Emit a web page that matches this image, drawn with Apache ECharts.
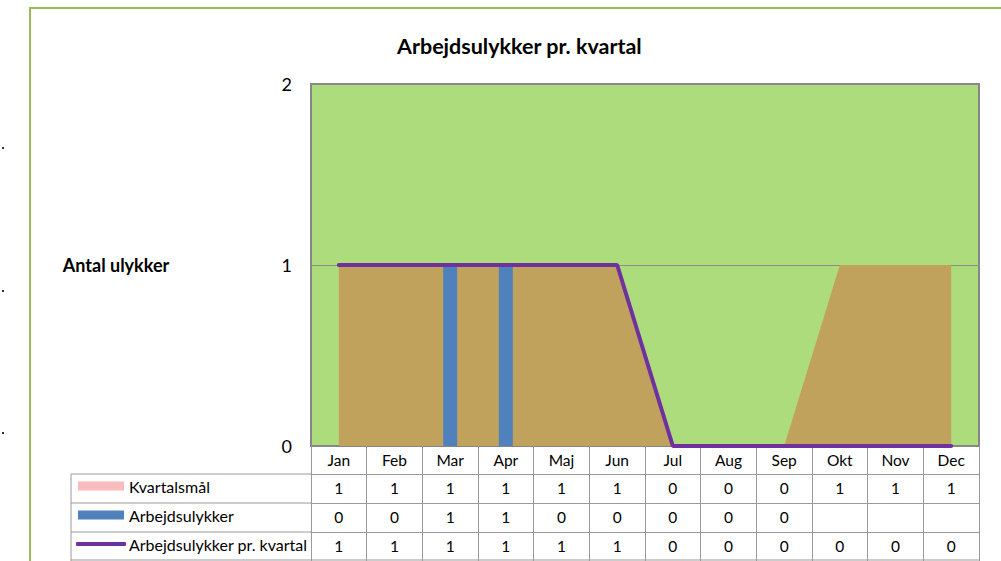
<!DOCTYPE html>
<html>
<head>
<meta charset="utf-8">
<script src="https://cdn.jsdelivr.net/npm/echarts@6/dist/echarts.min.js"></script>
<style>
  html, body { margin: 0; padding: 0; background: #fff; }
  #chart { width: 1001px; height: 561px; }
</style>
</head>
<body>
<div id="chart"></div>
<script>
// categories and values
const months = ['Jan', 'Feb', 'Mar', 'Apr', 'Maj', 'Jun', 'Jul', 'Aug', 'Sep', 'Okt', 'Nov', 'Dec'];
const kvartalsmal = [1, 1, 1, 1, 1, 1, 0, 0, 0, 1, 1, 1];
const ulykker = [0, 0, 1, 1, 0, 0, 0, 0, 0, null, null, null];
const prKvartal = [1, 1, 1, 1, 1, 1, 0, 0, 0, 0, 0, 0];
const yTicks = [0, 1, 2];

const FONT = 'Lato';
const tableLine = '#9a9a9a';
const rowH = 29;

const chart = echarts.init(document.getElementById('chart'), null, { renderer: 'svg' });

// one x axis per table row: the axis line is the row's top border, ticks are the column lines
const rowAxis = (offset, values) => ({
  type: 'category',
  data: months,
  gridIndex: 0,
  position: 'bottom',
  offset: offset,
  boundaryGap: true,
  axisLine: { show: true, lineStyle: { color: tableLine, width: 1 } },
  axisTick: { show: true, interval: 0, length: rowH, lineStyle: { color: tableLine } },
  axisLabel: {
    interval: 0,
    margin: 6,
    fontFamily: FONT,
    fontSize: 15.5,
    color: '#000',
    formatter: (v, i) => (values[i] == null ? '' : String(values[i]))
  },
  splitLine: { show: false }
});

const legendText = { fontFamily: FONT, fontSize: 16, color: '#000' };

const option = {
  backgroundColor: '#fff',
  animation: false,
  title: {
    text: 'Arbejdsulykker pr. kvartal',
    left: 392,
    top: 30,
    textStyle: { fontFamily: FONT, fontSize: 21.5, fontWeight: 'bold', color: '#000' }
  },
  legend: [
    {
      data: [{ name: 'Kvartalsmål', itemStyle: { color: '#f9bcbc' } }],
      left: 78, top: 478, padding: 0, icon: 'rect', itemWidth: 46, itemHeight: 9,
      textStyle: Object.assign({ padding: [0, 0, 0, 0] }, legendText)
    },
    {
      data: ['Arbejdsulykker'],
      left: 78, top: 507, padding: 0, icon: 'rect', itemWidth: 46, itemHeight: 9,
      textStyle: Object.assign({ padding: [0, 0, 0, 0] }, legendText)
    },
    {
      data: ['Arbejdsulykker pr. kvartal'],
      left: 76, top: 536, padding: 0, icon: 'roundRect', itemWidth: 50, itemHeight: 4,
      textStyle: Object.assign({ padding: [0, 0, 0, -2] }, legendText)
    }
  ],
  grid: {
    left: 311, top: 84, width: 668, height: 362,
    show: true,
    backgroundColor: '#addc7c',
    borderColor: '#868686',
    borderWidth: 2
  },
  xAxis: [
    Object.assign(rowAxis(0, months), { axisLine: { show: true, lineStyle: { color: '#868686', width: 2 } } }),
    rowAxis(rowH - 1, kvartalsmal),
    rowAxis(rowH * 2 - 1, ulykker),
    rowAxis(rowH * 3 - 1, prKvartal)
  ],
  yAxis: {
    type: 'value',
    min: yTicks[0],
    max: yTicks[yTicks.length - 1],
    interval: 1,
    name: 'Antal ulykker',
    nameLocation: 'middle',
    nameRotate: 0,
    nameGap: 195,
    nameTextStyle: { fontFamily: FONT, fontSize: 18, fontWeight: 'bold', color: '#000', align: 'center' },
    axisLine: { show: false },
    axisTick: { show: false },
    axisLabel: { margin: 19, fontFamily: FONT, fontSize: 18, color: '#000' },
    splitLine: { show: true, lineStyle: { color: '#8c8c8c', width: 1 } }
  },
  series: [
    {
      name: 'Kvartalsmål',
      type: 'line',
      data: kvartalsmal,
      symbol: 'none',
      lineStyle: { width: 0 },
      itemStyle: { color: '#c1a25d' },
      areaStyle: { color: '#c1a25d', opacity: 1 },
      z: 1
    },
    {
      name: 'Arbejdsulykker',
      type: 'bar',
      data: ulykker,
      barWidth: 14,
      itemStyle: { color: '#4f81bd' },
      z: 2
    },
    {
      name: 'Arbejdsulykker pr. kvartal',
      type: 'line',
      data: prKvartal,
      symbol: 'none',
      itemStyle: { color: '#7030a0' },
      lineStyle: { color: '#7030a0', width: 4, cap: 'round' },
      z: 3
    }
  ],
  graphic: [
    // outer chart frame (runs off the right and bottom edge)
    { type: 'rect', silent: true, shape: { x: 30, y: 8, width: 1000, height: 600 },
      style: { fill: 'none', stroke: '#9bbb59', lineWidth: 2 } },
    // legend column of the data table
    { type: 'line', silent: true, shape: { x1: 71, y1: 474, x2: 311, y2: 474 }, style: { stroke: tableLine } },
    { type: 'line', silent: true, shape: { x1: 71, y1: 503, x2: 311, y2: 503 }, style: { stroke: tableLine } },
    { type: 'line', silent: true, shape: { x1: 71, y1: 532, x2: 311, y2: 532 }, style: { stroke: tableLine } },
    { type: 'line', silent: true, shape: { x1: 71, y1: 560, x2: 979, y2: 560 }, style: { stroke: tableLine } },
    { type: 'line', silent: true, shape: { x1: 71, y1: 474, x2: 71, y2: 561 }, style: { stroke: tableLine } },
    // stray dots at the left edge
    { type: 'rect', silent: true, shape: { x: 2, y: 147, width: 2, height: 2 }, style: { fill: '#333' } },
    { type: 'rect', silent: true, shape: { x: 2, y: 290, width: 2, height: 2 }, style: { fill: '#333' } },
    { type: 'rect', silent: true, shape: { x: 2, y: 432, width: 2, height: 2 }, style: { fill: '#333' } }
  ]
};

chart.setOption(option);
</script>
</body>
</html>
